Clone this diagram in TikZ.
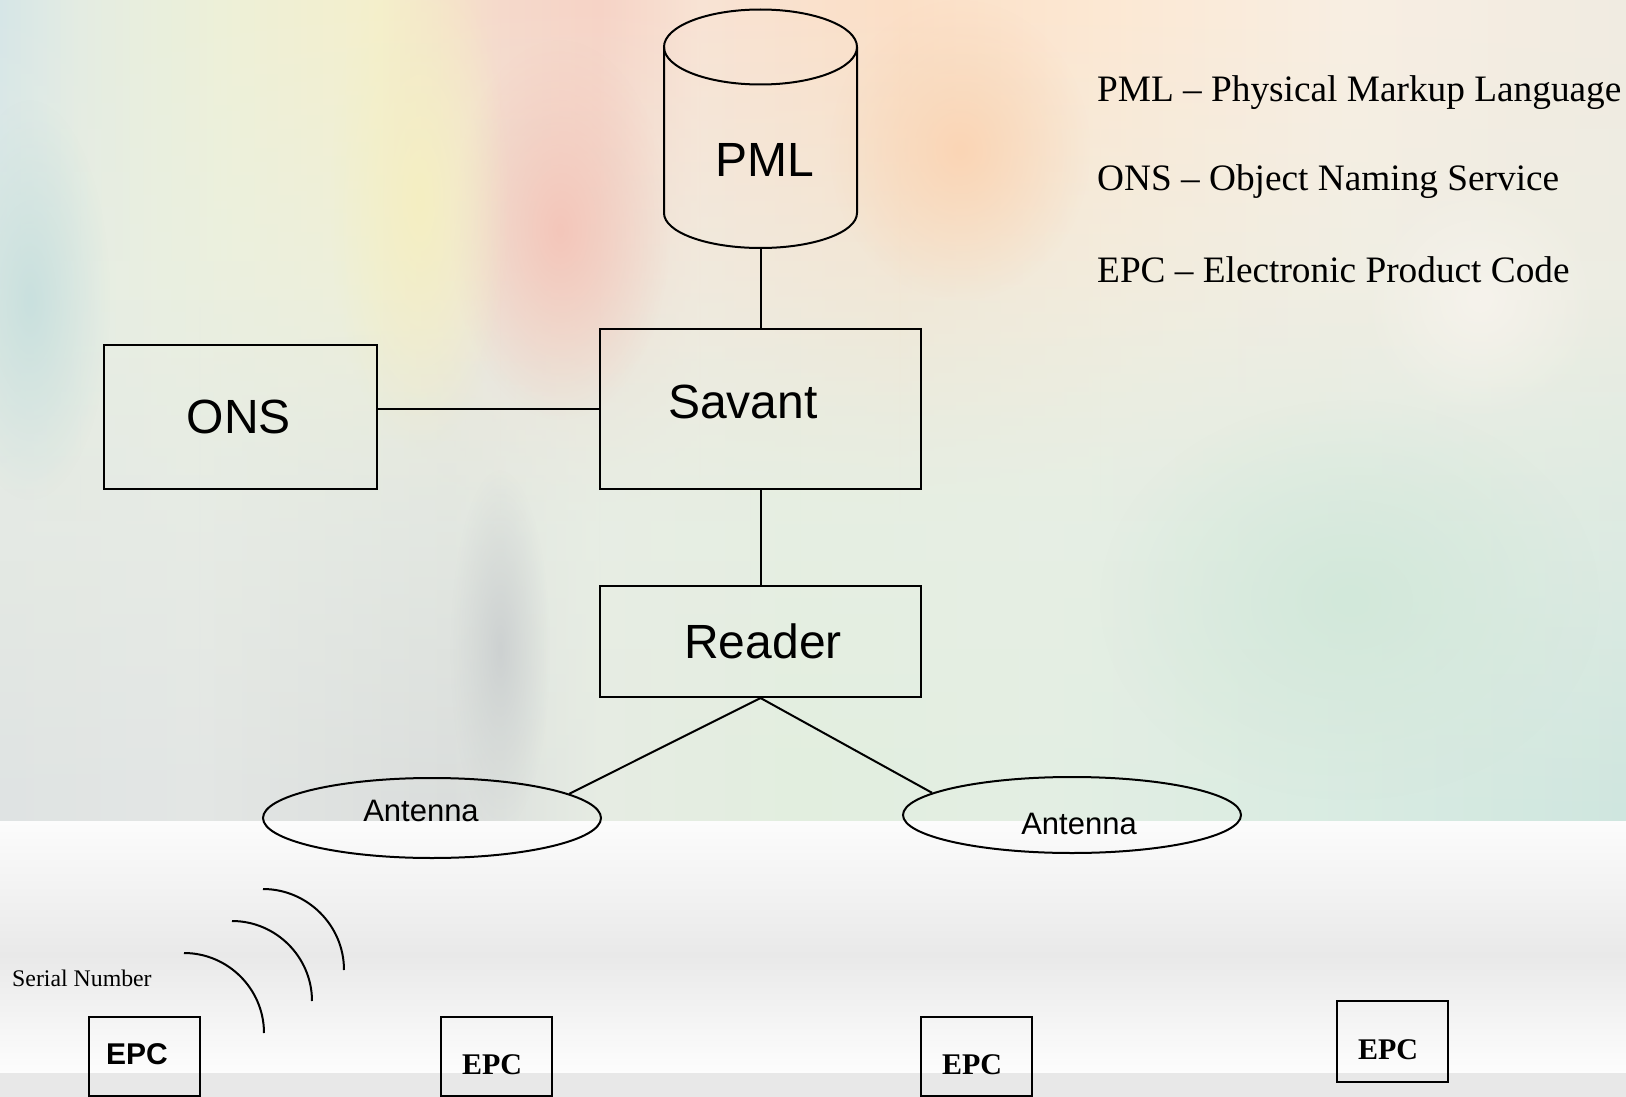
\documentclass[tikz,border=0pt]{standalone}
\usepackage{fontspec}
\setmainfont{Liberation Serif}
\newfontfamily\arialf{Liberation Sans}
\usetikzlibrary{shapes.geometric,fadings}
\tikzfading[name=fadedown, top color=transparent!0, bottom color=transparent!100]
\tikzfading[name=fadeupward, top color=transparent!100, bottom color=transparent!0]
\tikzfading[name=softblob, inner color=transparent!0, outer color=transparent!100]
% top band colours
\definecolor{ta}{HTML}{D6E6E8}
\definecolor{tb}{HTML}{E4ECE2}
\definecolor{tc}{HTML}{EEF1D8}
\definecolor{td}{HTML}{F5EFCC}
\definecolor{te}{HTML}{F6D9CB}
\definecolor{tf}{HTML}{F7D3C6}
\definecolor{tg}{HTML}{F9E3D4}
\definecolor{th}{HTML}{FCDFC6}
\definecolor{ti}{HTML}{FDE8D3}
\definecolor{tj}{HTML}{F9EEE2}
\definecolor{tk}{HTML}{F1EBE1}
% lower band colours
\definecolor{ba}{HTML}{DFE3E3}
\definecolor{bb}{HTML}{E3E6E4}
\definecolor{bc}{HTML}{DADDDC}
\definecolor{bd}{HTML}{E6ECE3}
\definecolor{be}{HTML}{E2EEDF}
\definecolor{bf}{HTML}{E3EEE3}
\definecolor{bg}{HTML}{DAECE2}
\definecolor{bh}{HTML}{CFE6DF}
\definecolor{basecol}{HTML}{E9EFE5}
\definecolor{blobpink}{HTML}{F4C6BA}
\definecolor{bloborange}{HTML}{FBD5B5}
\definecolor{blobyellow}{HTML}{F5EFC2}
\definecolor{blobteal}{HTML}{C9E0DE}
\definecolor{blobgray}{HTML}{CDD1D1}
\definecolor{blobwhite}{HTML}{F6F3EC}
\definecolor{blobgreen}{HTML}{D2E8DA}
\definecolor{wA}{HTML}{FCFCFC}
\definecolor{wB}{HTML}{E9E9E9}
\definecolor{wC}{HTML}{FDFDFD}
\definecolor{band}{HTML}{E8E8E8}
\begin{document}
\begin{tikzpicture}[x=1pt,y=-1pt,
  box/.style={draw=black, rectangle, inner sep=0pt, line width=2pt},
  conn/.style={draw=black, line width=2pt},
  lbl/.style={font=\arialf\fontsize{48}{56}\selectfont, anchor=base, inner sep=0pt},
  antlbl/.style={font=\arialf\fontsize{31}{36}\selectfont, anchor=base, inner sep=0pt},
  ant/.style={draw=black, ellipse, inner sep=0pt, line width=2pt, minimum width=338pt},
  epcbox/.style={box, minimum width=111pt},
  epcsans/.style={font=\arialf\bfseries\fontsize{30}{36}\selectfont, anchor=base, inner sep=0pt},
  epcserif/.style={font=\bfseries\fontsize{30}{36}\selectfont, anchor=base, inner sep=0pt},
  legend/.style={font=\fontsize{37.3}{44}\selectfont, anchor=base west, inner sep=0pt},
  wave/.style={draw=black, line width=2pt}
]
\useasboundingbox (0,0) rectangle (1626,1097);
% ---------------- background ----------------
\fill[basecol] (0,0) rectangle (1626,821);
\shade[left color=ta, right color=tb, path fading=fadedown] (0,0) rectangle (80,520);
\shade[left color=tb, right color=tc, path fading=fadedown] (80,0) rectangle (220,520);
\shade[left color=tc, right color=td, path fading=fadedown] (220,0) rectangle (380,520);
\shade[left color=td, right color=te, path fading=fadedown] (380,0) rectangle (500,520);
\shade[left color=te, right color=tf, path fading=fadedown] (500,0) rectangle (600,520);
\shade[left color=tf, right color=tg, path fading=fadedown] (600,0) rectangle (700,520);
\shade[left color=tg, right color=th, path fading=fadedown] (700,0) rectangle (900,520);
\shade[left color=th, right color=ti, path fading=fadedown] (900,0) rectangle (1100,520);
\shade[left color=ti, right color=tj, path fading=fadedown] (1100,0) rectangle (1350,520);
\shade[left color=tj, right color=tk, path fading=fadedown] (1350,0) rectangle (1626,520);
\shade[left color=ba, right color=bb, path fading=fadeupward] (0,300) rectangle (200,821);
\shade[left color=bb, right color=bc, path fading=fadeupward] (200,300) rectangle (450,821);
\shade[left color=bc, right color=bd, path fading=fadeupward] (450,300) rectangle (600,821);
\shade[left color=bd, right color=be, path fading=fadeupward] (600,300) rectangle (800,821);
\shade[left color=be, right color=bf, path fading=fadeupward] (800,300) rectangle (1050,821);
\shade[left color=bf, right color=bg, path fading=fadeupward] (1050,300) rectangle (1300,821);
\shade[left color=bg, right color=bh, path fading=fadeupward] (1300,300) rectangle (1626,821);
\fill[blobpink, path fading=softblob] (560,230) ellipse [x radius=110, y radius=190];
\fill[bloborange, path fading=softblob] (960,150) ellipse [x radius=130, y radius=150];
\fill[blobyellow, path fading=softblob] (420,200) ellipse [x radius=90, y radius=250];
\fill[blobteal, path fading=softblob] (30,300) ellipse [x radius=80, y radius=200];
\fill[blobgray, path fading=softblob] (500,650) ellipse [x radius=50, y radius=180];
\fill[blobwhite, path fading=softblob] (1480,300) ellipse [x radius=120, y radius=120];
\fill[blobgreen, path fading=softblob] (1350,600) ellipse [x radius=250, y radius=200];
\shade[top color=wA, bottom color=wB] (0,821) rectangle (1626,955);
\shade[top color=wB, bottom color=wC] (0,955) rectangle (1626,1073);
\fill[band] (0,1073) rectangle (1626,1097);
% ---------------- PML cylinder ----------------
\draw[wave] (760.5,47) ellipse [x radius=96.5, y radius=37.5];
\draw[wave] (664,47) -- (664,213) arc[start angle=180, end angle=0, x radius=96.5, y radius=35] -- (857,47);
\coordinate (pmlbot) at (760.5,248);
\node[lbl] (pml) at (765,177) {PML};
% ---------------- boxes ----------------
\node[box, minimum width=321pt, minimum height=160pt] (savant) at (760.5,409) {};
\node[lbl] (savanttxt) at (743,418) {Savant};
\node[box, minimum width=273pt, minimum height=144pt] (ons) at (240.5,417) {};
\node[lbl] (onstxt) at (239,433) {ONS};
\node[box, minimum width=321pt, minimum height=111pt] (reader) at (760.5,641.5) {};
\node[lbl] (readertxt) at (763,658) {Reader};
% ---------------- antennas ----------------
\node[ant, minimum height=80pt] (antL) at (432,818) {};
\node[antlbl] (antLtxt) at (421,821) {Antenna};
\node[ant, minimum height=76pt] (antR) at (1072,815) {};
\node[antlbl] (antRtxt) at (1079,834) {Antenna};
% ---------------- connectors ----------------
\draw[conn] (pmlbot) -- (savant.north);
\draw[conn] (savant.west) -- (savant.west -| ons.east);
\draw[conn] (savant.south) -- (reader.north);
\draw[conn] (reader.south) -- (antL.10);
\draw[conn] (reader.south) -- (antR.171);
% ---------------- legend ----------------
\node[legend] (l1) at (1097,102) {PML – Physical Markup Language};
\node[legend] (l2) at (1097,190) {ONS – Object Naming Service};
\node[legend] (l3) at (1097,282) {EPC – Electronic Product Code};
% ---------------- tags ----------------
\node[font=\fontsize{23.8}{28}\selectfont, anchor=base west, inner sep=0pt] (serial) at (12,986) {Serial Number};
\draw[wave] (184,953) .. controls (228,953) and (264,989) .. (264,1033);
\draw[wave] (232,921) .. controls (276,921) and (312,957) .. (312,1001);
\draw[wave] (263,889) .. controls (307,889) and (344,925) .. (344,970);
\node[epcbox, minimum height=79pt] (epc1) at (144,1056.5) {};
\node[epcsans] (epc1txt) at (137,1064) {EPC};
\node[epcbox, minimum height=79pt] (epc2) at (496.5,1056.5) {};
\node[epcserif] (epc2txt) at (492,1074) {EPC};
\node[epcbox, minimum height=79pt] (epc3) at (976.5,1056.5) {};
\node[epcserif] (epc3txt) at (972,1074) {EPC};
\node[epcbox, minimum height=81pt] (epc4) at (1392.5,1041.5) {};
\node[epcserif] (epc4txt) at (1388,1059) {EPC};
\end{tikzpicture}
\end{document}
